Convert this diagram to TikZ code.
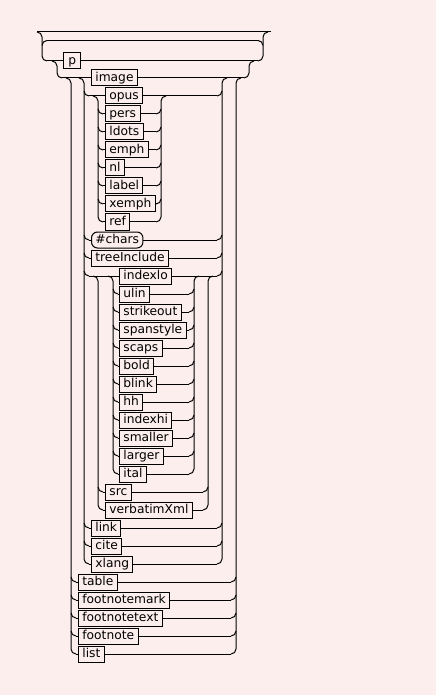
\documentclass[tikz,border=0pt]{standalone}
\usepackage{fontspec}
\setmainfont{DejaVu Sans}
\definecolor{paper}{RGB}{253,238,238}
\tikzset{
  rail/.style={line width=0.75pt},
  railbend/.style={rail,rounded corners=3.75pt},
  railbox/.style={draw,line width=0.75pt,fill=paper,anchor=west,
    inner xsep=2.9pt,inner ysep=1.5pt,text height=6.9pt,text depth=2.1pt,
    font=\fontsize{9.2pt}{10pt}\selectfont},
  charbox/.style={railbox,rounded corners=4.5pt},
}
% one choice: #1 left x, #2 right x, #3 top row, #4 last row, #5 rows between
\newcommand{\railfork}[5]{%
  \draw[railbend] (#1-5,#3) -- (#1,#3) -- (#1,#4) -- (#1+5,#4);
  \draw[railbend] (#2-5,#4) -- (#2,#4) -- (#2,#3) -- (#2+5,#3);
  \foreach \yb in {#5}{%
    \draw[railbend] (#1,\yb-5) -- (#1,\yb) -- (#1+5,\yb);
    \draw[railbend] (#2-5,\yb) -- (#2,\yb) -- (#2,\yb-5);
  }%
}

\begin{document}
\begin{tikzpicture}[x=0.75pt,y=-0.75pt]
  \fill[paper] (0,0) rectangle (436,695);
  \useasboundingbox (0,0) rectangle (436,695);
  % bypass and return line of the loop
  \draw[rail] (37,32) -- (271,32);
  \draw[rail] (47,40.5) -- (258,40.5);
  \draw[railbend] (37,32) -- (42,32) -- (42,61) -- (47,61);
  \draw[railbend] (47,40.5) -- (42,40.5) -- (42,45.5);
  \draw[railbend] (258,61) -- (263,61) -- (263,32) -- (268,32);
  \draw[railbend] (258,40.5) -- (263,40.5) -- (263,45.5);
  % main line
  \node[railbox,minimum width=13pt] (p) at (63,61) {p};
  \draw[rail] (47,61) -- (p.west);
  \draw[rail] (p.east) -- (258,61);
  \draw[railbend] (52,61) -- (57,61) -- (57,78) -- (62,78);
  \draw[railbend] (244,78) -- (249,78) -- (249,61) -- (254,61);
  \node[railbox] (image) at (91,78) {image};
  \draw[rail] (62,78) -- (image.west);
  \draw[rail] (image.east) -- (244,78);
  % the nested choices
  \railfork{71}{236}{78}{654}{582,600,618,636}
  \railfork{84}{222}{78}{564}{96,240,258,276,528,546}
  \railfork{98}{161}{96}{222}{114,132,...,204}
  \railfork{98}{208}{276}{510}{492}
  \railfork{113}{194}{276}{474}{294,312,...,456}
  % rows that run out to the trunk at 222
  \node[railbox] (opus) at (105,96) {opus};
  \node[charbox] (chars) at (91,240) {\#chars\hspace{8pt}};
  \node[railbox] (treeInclude) at (91,258) {treeInclude};
  \node[railbox] (indexlo) at (119,276) {indexlo};
  \foreach \nm/\yr in {opus/96,chars/240,treeInclude/258,indexlo/276}{%
    \draw[rail] (89,\yr) -- (\nm.west);
    \draw[rail] (\nm.east) -- (217,\yr);
  }
  \foreach \nm/\yr in {pers/114,ldots/132,emph/150,nl/168,label/186,xemph/204,ref/222}{%
    \node[railbox] (\nm) at (105,\yr) {\nm};
    \draw[rail] (103,\yr) -- (\nm.west);
    \draw[rail] (\nm.east) -- (156,\yr);
  }
  \foreach \nm/\yr in {ulin/294,strikeout/312,spanstyle/330,scaps/348,bold/366,
      blink/384,hh/402,indexhi/420,smaller/438,larger/456,ital/474}{%
    \node[railbox] (\nm) at (119,\yr) {\nm};
    \draw[rail] (118,\yr) -- (\nm.west);
    \draw[rail] (\nm.east) -- (189,\yr);
  }
  \foreach \nm/\yr in {src/492,verbatimXml/510}{%
    \node[railbox] (\nm) at (105,\yr) {\nm};
    \draw[rail] (103,\yr) -- (\nm.west);
    \draw[rail] (\nm.east) -- (203,\yr);
  }
  \foreach \nm/\yr in {link/528,cite/546,xlang/564}{%
    \node[railbox] (\nm) at (91,\yr) {\nm};
    \draw[rail] (89,\yr) -- (\nm.west);
    \draw[rail] (\nm.east) -- (217,\yr);
  }
  \foreach \nm/\yr in {table/582,footnotemark/600,footnotetext/618,footnote/636,list/654}{%
    \node[railbox] (\nm) at (78,\yr) {\nm};
    \draw[rail] (76,\yr) -- (\nm.west);
    \draw[rail] (\nm.east) -- (231,\yr);
  }
\end{tikzpicture}
\end{document}
